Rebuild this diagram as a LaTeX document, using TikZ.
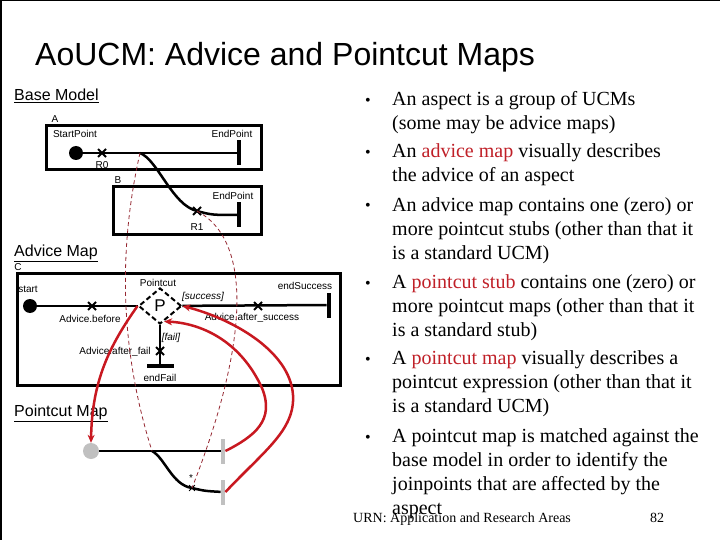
\documentclass[tikz,border=0pt]{standalone}
\usepackage{fontspec}
\setmainfont{Liberation Serif}
\setsansfont{Liberation Sans}
\usetikzlibrary{shapes.geometric, shapes.misc, arrows.meta, positioning}
\definecolor{termred}{RGB}{192,32,40}
\definecolor{bindred}{RGB}{200,24,32}
\definecolor{mapred}{RGB}{150,40,50}
\definecolor{pcgrey}{RGB}{192,192,192}

\begin{document}
\begin{tikzpicture}[
        x=1pt, y=-1pt,
        ucmbox/.style={rectangle, draw=black, line width=3pt, inner sep=0pt},
        startpt/.style={circle, fill=black, minimum size=14pt, inner sep=0pt},
        endbar/.style={rectangle, fill=black, minimum width=4.5pt, minimum height=25pt, inner sep=0pt},
        resp/.style={cross out, draw=black, line width=2pt, minimum size=6pt, inner sep=0pt},
        stub/.style={diamond, draw=black, line width=2pt, dash pattern=on 5pt off 3pt, minimum width=43pt, minimum height=36pt, inner sep=0pt, font=\sffamily\fontsize{17}{17}\selectfont},
        ucmpath/.style={draw=black, line width=2.5pt},
        bind/.style={-{Stealth[length=8pt, width=7pt]}, draw=bindred, line width=2.5pt},
        mapline/.style={draw=mapred, line width=0.8pt, dash pattern=on 4pt off 3pt},
        lbl/.style={font=\sffamily\fontsize{10}{12}\selectfont, inner sep=0pt},
        lbli/.style={font=\sffamily\itshape\fontsize{10}{12}\selectfont, inner sep=0pt},
        hdr/.style={font=\sffamily\fontsize{16}{18}\selectfont, anchor=west, inner sep=0pt},
        bullet/.style={font=\fontsize{20}{24}\selectfont, align=left, anchor=base west, inner sep=0pt},
        dot/.style={font=\fontsize{16}{24}\selectfont, anchor=base, inner sep=0pt}
    ]
    \fill[white] (0,0) rectangle (720,540);
    \useasboundingbox (0,0) rectangle (720,540);
    \draw[line width=1.5pt] (1,540) -- (1,0.75) -- (720,0.75);

    \node[font=\sffamily\fontsize{32}{36}\selectfont, anchor=base west, inner sep=0pt] (title) at (35,66) {AoUCM: Advice and Pointcut Maps};

    % base model
    \node[hdr] (hbase) at (14,96) {\underline{Base Model}};
    \node[ucmbox, minimum width=215pt, minimum height=44pt] (boxA) at (153.5,148) {};
    \node[ucmbox, minimum width=148pt, minimum height=47pt] (boxB) at (187,210.5) {};
    \node[startpt] (sA) at (76,153) {};
    \node[endbar] (eA) at (239,153) {};
    \node[resp] (r0) at (102,153) {};
    \coordinate (splitA) at (140,153);
    \node[endbar] (eB) at (239,215) {};
    \node[resp] (r1) at (197,211) {};
    \draw[ucmpath] (sA) -- (eA);
    \draw[ucmpath] (splitA) .. controls (158,160) and (172,205) .. (r1.center) .. controls (212,215) .. (eB.center);
    \node[lbl] (lA) at (55,119) {A};
    \node[lbl] (lsA) at (75,134) {StartPoint};
    \node[lbl] (leA) at (232,134) {EndPoint};
    \node[lbl, below=4pt of r0] (lr0) {R0};
    \node[lbl] (lB) at (118,180) {B};
    \node[lbl] (leB) at (233,196) {EndPoint};
    \node[lbl, below=8pt of r1] (lr1) {R1};

    % advice map
    \node[hdr] (hadv) at (14,253) {\underline{Advice Map}};
    \node[ucmbox, minimum width=323pt, minimum height=112pt] (boxC) at (178.5,329) {};
    \node[startpt] (sC) at (30,306) {};
    \node[stub] (pc) at (160,306) {P};
    \node[endbar] (eS) at (329,305) {};
    \node[endbar, minimum width=27pt, minimum height=4.5pt] (eF) at (160,366) {};
    \node[resp] (rb) at (92,306) {};
    \node[resp] (ras) at (258,306) {};
    \node[resp] (raf) at (160,351) {};
    \draw[ucmpath] (sC) -- (pc);
    \draw[ucmpath] (pc) -- (eS);
    \draw[ucmpath] (pc) -- (eF);
    \node[lbl] (lC) at (18,267) {C};
    \node[lbl] (lstart) at (28,289) {start};
    \node[lbl] (lpc) at (158,283) {Pointcut};
    \node[lbli] (lsucc) at (203,297) {[success]};
    \node[lbl] (lesucc) at (305,286) {endSuccess};
    \node[lbl] (lrb) at (90,319) {Advice.before};
    \node[lbl] (lras) at (252,318) {Advice.after\_success};
    \node[lbli] (lfail) at (171,338) {[fail]};
    \node[lbl] (lraf) at (115,352) {Advice.after\_fail};
    \node[lbl] (leF) at (160,378) {endFail};

    % pointcut map
    \node[hdr] (hpc) at (14,413) {\underline{Pointcut Map}};
    \node[circle, fill=pcgrey, minimum size=16pt, inner sep=0pt] (sP) at (91,451) {};
    \node[endbar, fill=pcgrey] (eP1) at (223,451) {};
    \node[endbar, fill=pcgrey] (eP2) at (223,492) {};
    \coordinate (splitP) at (152,451);
    \node[resp, line width=0.8pt, minimum size=5pt] (rP) at (192,488) {};
    \draw[ucmpath] (sP) -- (eP1);
    \draw[ucmpath] (splitP) .. controls (165,458) and (172,485) .. (rP.center) .. controls (205,491) .. (eP2);
    \node[lbl] (lstar) at (191,478) {*};

    % bindings
    \draw[mapline] (splitA) .. controls (118,250) and (120,350) .. (splitP);
    \draw[mapline] (r1.center) .. controls (252,240) and (250,340) .. (rP.center);
    \draw[bind] (pc.west) .. controls (110,345) and (92,380) .. (sP.north);
    \draw[bind] (eP1.east) .. controls (255,436) and (275,420) .. (262,388) .. controls (240,340) and (200,323) .. (pc.-75);
    \draw[bind] (eP2.east) .. controls (265,450) and (295,430) .. (293,395) .. controls (290,350) and (230,318) .. (pc.east);

    % bullets (nodes sit on their last baseline)
    \foreach \y in {106,158,211,288,364,442}
        \node[dot] (dot\y) at (368,\y) {\textbullet};
    \node[bullet] (b1) at (392,130) {An aspect is a group of UCMs\\(some may be advice maps)};
    \node[bullet] (b2) at (392,182) {An \textcolor{termred}{advice map} visually describes\\the advice of an aspect};
    \node[bullet] (b3) at (392,259) {An advice map contains one (zero) or\\more pointcut stubs (other than that it\\is a standard UCM)};
    \node[bullet] (b4) at (392,336) {A \textcolor{termred}{pointcut stub} contains one (zero) or\\more pointcut maps (other than that it\\is a standard stub)};
    \node[bullet] (b5) at (392,412) {A \textcolor{termred}{pointcut map} visually describes a\\pointcut expression (other than that it\\is a standard UCM)};
    \node[bullet] (b6) at (392,514) {A pointcut map is matched against the\\base model in order to identify the\\joinpoints that are affected by the\\aspect};

    \node[font=\fontsize{14}{16}\selectfont, anchor=base west, inner sep=0pt] (foot) at (353,522) {URN: Application and Research Areas};
    \node[font=\fontsize{14}{16}\selectfont, anchor=base west, inner sep=0pt] (page) at (650,522) {82};
\end{tikzpicture}
\end{document}
